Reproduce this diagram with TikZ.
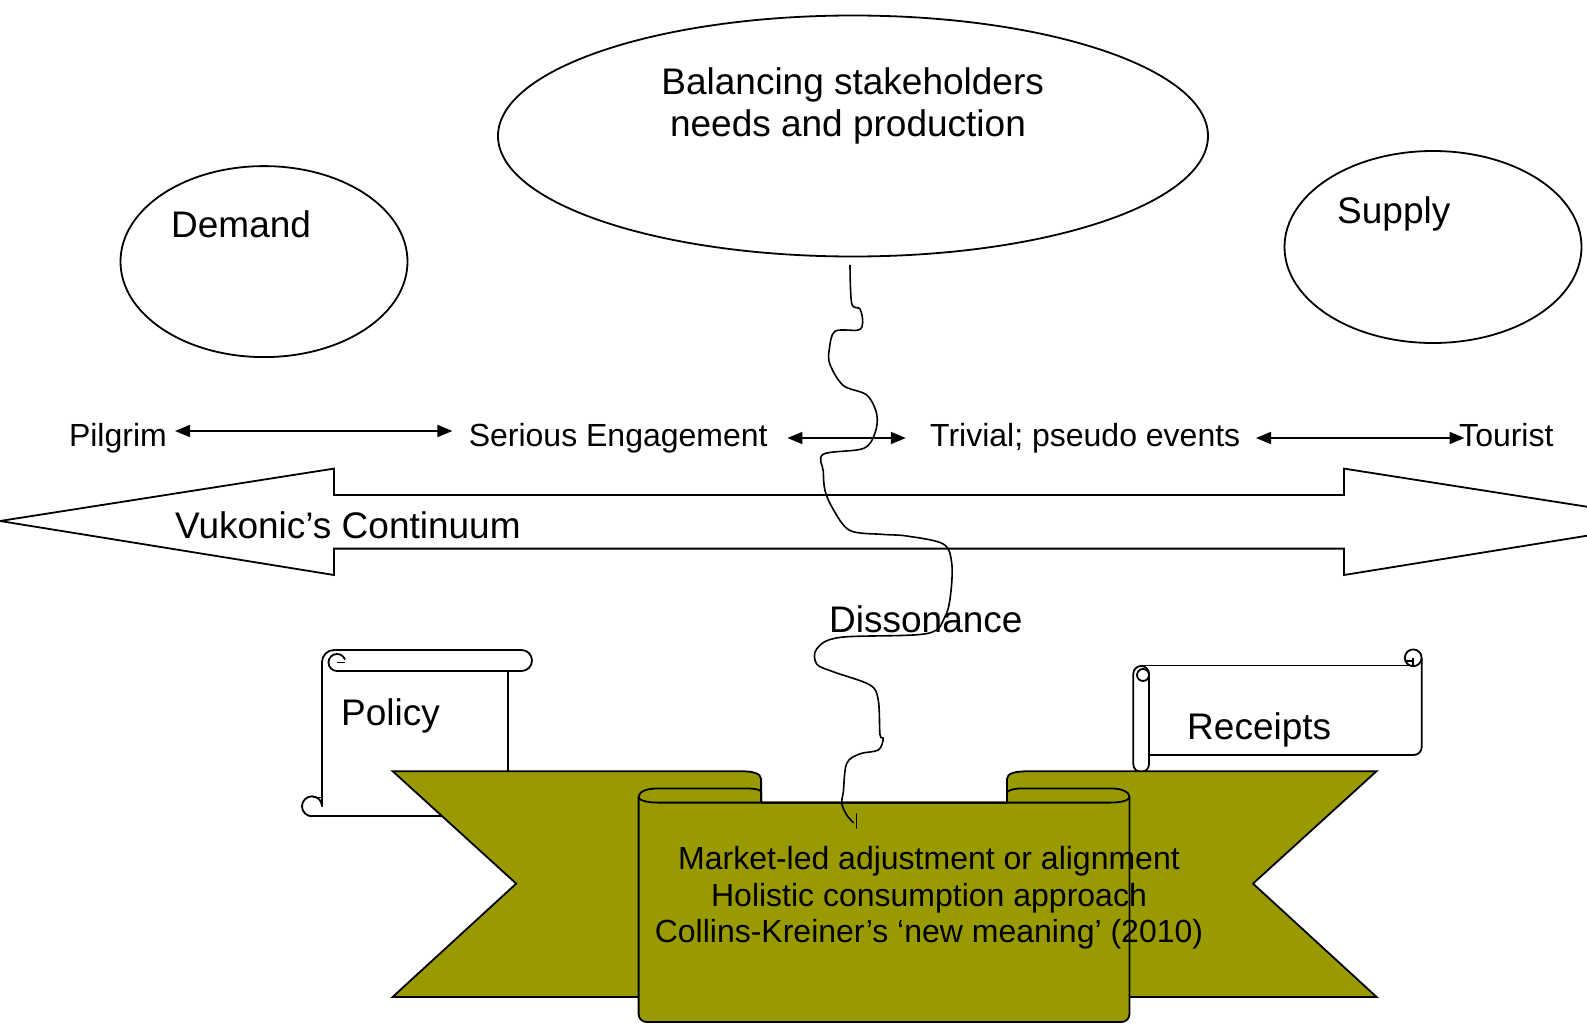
\documentclass[tikz,border=0pt]{standalone}
\usepackage{fontspec}
\setmainfont{Liberation Sans}
\usetikzlibrary{arrows.meta,shapes.geometric}
\definecolor{ribbon}{RGB}{153,153,0}
\tikzset{
  outline/.style={draw=black, line width=1.8pt, line join=round},
  bigtxt/.style={font=\fontsize{37}{42}\selectfont, inner sep=0pt},
  smalltxt/.style={font=\fontsize{32}{36.5}\selectfont, inner sep=0pt},
  twohead/.style={line width=1.7pt, {Triangle[length=15pt,width=12pt]}-{Triangle[length=15pt,width=12pt]}},
  oval/.style={ellipse, draw, line width=1.8pt, inner sep=0pt},
  wavy/.style={line width=1.6pt, line cap=round, line join=round},
}
\begin{document}
\begin{tikzpicture}[x=1pt,y=-1pt]
\useasboundingbox (0,0) rectangle (1587,1025);
\clip (0,0) rectangle (1587,1025);

% ellipses
\node[oval, minimum width=710pt, minimum height=241pt] (balance) at (853,136) {};
\node[oval, minimum width=287pt, minimum height=191pt] (demand) at (264,261.6) {};
\node[oval, minimum width=297pt, minimum height=192pt] (supply) at (1433,247) {};
\node[bigtxt, anchor=base] (bal1) at (852.7,94) {Balancing stakeholders};
\node[bigtxt, anchor=base] (bal2) at (848,136.5) {needs and production};
\node[bigtxt, anchor=base west] (demandtxt) at (171,237) {Demand};
\node[bigtxt, anchor=base west] (supplytxt) at (1337,223) {Supply};

% continuum labels
\node[smalltxt, anchor=base west] (pilgrim) at (68.8,446.5) {Pilgrim};
\node[smalltxt, anchor=base west] (serious) at (468.6,446.5) {Serious Engagement};
\node[smalltxt, anchor=base west] (trivial) at (930,446.5) {Trivial; pseudo events};
\node[smalltxt, anchor=base west] (tourist) at (1459,446.5) {Tourist};
\coordinate (a1s) at (175,431);
\coordinate (a1e) at (452.4,431);
\coordinate (a2s) at (787.4,438);
\coordinate (a2e) at (905.8,438);
\coordinate (a3s) at (1256,438);
\coordinate (a3e) at (1464.5,438);
\draw[twohead] (a1s) -- (a1e);
\draw[twohead] (a2s) -- (a2e);
\draw[twohead] (a3s) -- (a3e);

% Vukonic's double arrow
\draw[outline, line join=miter] (0,521) -- (334,468.6) -- (334,495) -- (1344,495) -- (1344,468.6)
  -- (1678,521) -- (1344,575) -- (1344,548.6) -- (334,548.6) -- (334,575) -- cycle;
\node[bigtxt, anchor=base west] (vukonic) at (175,538) {Vukonic’s Continuum};
\node[bigtxt, anchor=base west] (dissonance) at (829,632) {Dissonance};

% Policy scroll (vertical)
\fill[white] (322,660) rectangle (508.3,815.8);
\draw[outline] (322,797) -- (322,662) arc[start angle=180, end angle=270, radius=12];
\draw[outline] (508.3,671) -- (508.3,815.8) -- (312,815.8);
\draw[outline, fill=white] (334,650) -- (521.5,650) arc[start angle=-90, end angle=90, radius=10.5] -- (337,671);
\draw[outline] (337,671) arc[start angle=90, end angle=340, radius=8.5];
\draw[outline] (337,662.5) -- (345,662.5);
\draw[outline] (322,797) -- (322,806.3) arc[start angle=0, end angle=-270, radius=10];
\draw[outline] (313,797.5) -- (322,797.5);
\node[bigtxt, anchor=base west] (policy) at (341,725) {Policy};

% Receipts scroll (horizontal)
\fill[white] (1141,665.5) rectangle (1421.7,755);
\draw[outline] (1141,665.5) -- (1413,665.5);
\draw[outline] (1421.7,658) -- (1421.7,747) arc[start angle=0, end angle=90, radius=8] -- (1149,755);
\draw[outline] (1413.2,657.8) circle[radius=8.4];
\draw[outline] (1413.2,657.8) -- (1413.2,666);
\draw[outline] (1405,661) -- (1413.2,661);
\draw[outline, fill=white, rounded corners=7.8] (1133.3,666) rectangle (1149,772);
\draw[outline] (1143,675) circle[radius=6];
\node[bigtxt, anchor=base west] (receipts) at (1187,739) {Receipts};

% ribbon banner
\draw[outline, fill=ribbon, line join=miter] (392.7,771.2) -- (740,771.2) .. controls (752,771.2) and (761.1,773) .. (761.1,779)
  -- (761.1,900) -- (700,996.9) -- (392.7,996.9) -- (516.2,883.6) -- cycle;
\draw[outline, fill=ribbon, line join=miter] (1376.5,771.2) -- (1030,771.2) .. controls (1015,771.2) and (1007,773) .. (1007,779)
  -- (1007,900) -- (1070,996.9) -- (1376.5,996.9) -- (1253,883.6) -- cycle;
\draw[outline, fill=ribbon] (638.6,797) .. controls (638.6,792) and (646,788.4) .. (657.9,788.4) -- (745,788.4)
  .. controls (754,788.4) and (761.1,789.5) .. (761.1,792) -- (761.1,802.6) -- (1007,802.6) -- (1007,792)
  .. controls (1010,789.5) and (1015,788.4) .. (1023,788.4) -- (1110.3,788.4)
  .. controls (1122,788.4) and (1129.5,792) .. (1129.5,797)
  -- (1129.5,1014) arc[start angle=0, end angle=90, radius=8] -- (646.6,1022)
  arc[start angle=90, end angle=180, radius=8] -- cycle;
\draw[outline] (638.6,797) .. controls (638.6,800) and (646,802.6) .. (657.9,802.6) -- (1110.3,802.6)
  .. controls (1122,802.6) and (1129.5,800) .. (1129.5,797);
\node[smalltxt, anchor=base] (market1) at (929,869.5) {Market-led adjustment or alignment};
\node[smalltxt, anchor=base] (market2) at (929,906.5) {Holistic consumption approach};
\node[smalltxt, anchor=base] (market3) at (929,942.5) {Collins-Kreiner’s ‘new meaning’ (2010)};

% dissonance line
\coordinate (wstart) at (850,265.3);
\coordinate (wend) at (853.3,822.5);
\draw[wavy] plot[smooth, tension=0.55] coordinates {
 (850,265.3) (851.7,303.4) (860,309) (862.7,322.5) (858.3,330) (835,331.3) (829.3,349.2) (830,364.5)
 (843.3,385.5) (866.7,395) (876.7,414) (875,433) (863.3,448.5) (823.3,454.2) (823.3,471.4) (825,490.5)
 (833.3,509.5) (850,530.5) (883.3,534.4) (906.7,536) (943.3,544) (951.7,563) (950.7,593.5) (945,616.4)
 (926.7,633.6) (840,637.4) (816.7,648.9) (816.7,664) (833.3,671.8) (870,685) (878.3,700.4) (880,734.7)
 (883.3,738.5) (878.3,750) (860,753.8) (846.7,763.4) (843.3,792) (841.7,803.4) (846.7,815) (853.3,822.5)};
\draw[wavy] (856.5,814) -- (856.5,828);
\end{tikzpicture}
\end{document}
